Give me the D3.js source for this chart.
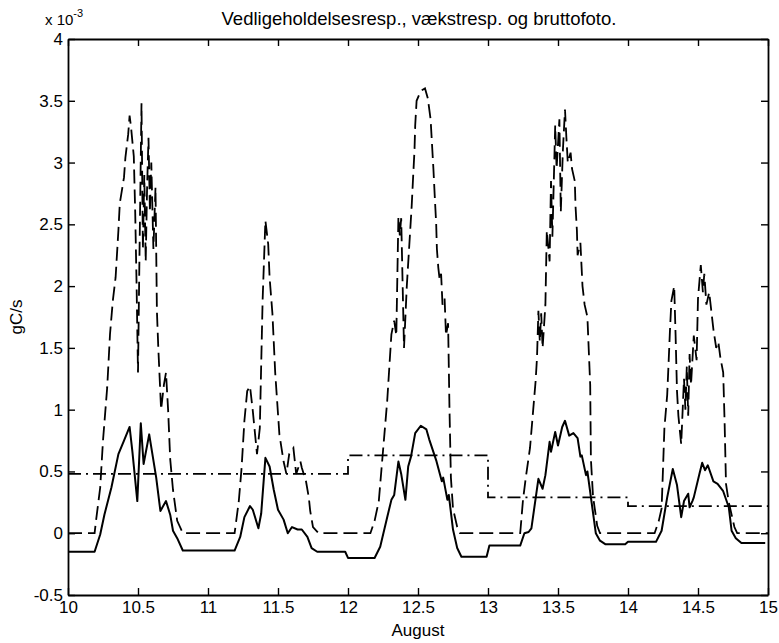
<!DOCTYPE html>
<html>
<head>
<meta charset="utf-8">
<script src="https://cdn.jsdelivr.net/npm/d3@7"></script>
<style>
    body { margin: 0; background: #fff; }
    svg { display: block; }
</style>
</head>
<body>
<div id="chart"></div>
<script>
// values in units of 1e-3 gC/s, time in days of August
const xTicks = [10, 10.5, 11, 11.5, 12, 12.5, 13, 13.5, 14, 14.5, 15]
const yTicks = [-0.5, 0, 0.5, 1, 1.5, 2, 2.5, 3, 3.5, 4]

// bruttofoto (dashed)
const photoX = [10.00, 10.19, 10.20, 10.23, 10.25, 10.28, 10.30, 10.32, 10.34, 10.36, 10.37, 10.40, 10.41, 10.43, 10.44, 10.45, 10.47, 10.48, 10.49, 10.50,
    10.51, 10.525, 10.535, 10.545, 10.555, 10.565, 10.575, 10.585, 10.595, 10.61, 10.625, 10.635, 10.645, 10.665, 10.685, 10.70, 10.715, 10.73, 10.75, 10.78, 10.82,
    11.19, 11.22, 11.24, 11.26, 11.28, 11.30, 11.32, 11.35, 11.37, 11.39, 11.41, 11.43, 11.44, 11.46, 11.48, 11.51, 11.54, 11.56, 11.58, 11.61, 11.63, 11.66, 11.67, 11.70, 11.72, 11.73, 11.75, 11.79,
    12.16, 12.19, 12.22, 12.24, 12.26, 12.28, 12.295, 12.31, 12.33, 12.345, 12.36, 12.37, 12.38, 12.40, 12.42, 12.455, 12.465, 12.475, 12.48, 12.49, 12.52, 12.55, 12.57, 12.59, 12.60, 12.61, 12.62, 12.63, 12.635, 12.645, 12.655, 12.665, 12.675, 12.69, 12.70, 12.715, 12.725, 12.735, 12.75, 12.78, 12.80,
    13.23, 13.25, 13.27, 13.30, 13.32, 13.34, 13.35, 13.36, 13.37, 13.38, 13.39, 13.41, 13.42, 13.44, 13.45, 13.46, 13.48, 13.49, 13.51, 13.52, 13.535, 13.55, 13.56, 13.57, 13.59, 13.60, 13.62, 13.625, 13.635, 13.64, 13.66, 13.675, 13.69, 13.71, 13.73, 13.735, 13.75, 13.78, 13.80,
    14.19, 14.22, 14.24, 14.25, 14.26, 14.28, 14.29, 14.30, 14.31, 14.33, 14.34, 14.35, 14.36, 14.38, 14.40, 14.41, 14.42, 14.43, 14.44, 14.45, 14.47, 14.49, 14.50, 14.52, 14.535, 14.545, 14.56, 14.58, 14.61, 14.63, 14.645, 14.66, 14.68, 14.69, 14.70, 14.72, 14.74, 14.76, 14.78, 15.00]
const photoY = [0, 0, 0.10, 0.37, 0.75, 1.18, 1.61, 1.88, 2.07, 2.45, 2.67, 2.88, 3.04, 3.23, 3.38, 3.29, 3.05, 2.6, 2.0, 1.3,
    2.2, 3.48, 2.3, 2.9, 2.2, 2.8, 3.2, 2.6, 3.0, 2.3, 2.8, 1.8, 1.5, 1.0, 1.2, 1.3, 1.0, 0.6, 0.35, 0.1, 0,
    0, 0.26, 0.53, 0.91, 1.15, 1.19, 0.99, 0.64, 0.85, 1.88, 2.53, 2.34, 2.07, 1.78, 1.3, 0.8, 0.58, 0.48, 0.64, 0.69, 0.48, 0.58, 0.53, 0.42, 0.29, 0.18, 0.05, 0,
    0, 0.10, 0.26, 0.53, 0.80, 1.07, 1.34, 1.61, 1.72, 1.6, 2.56, 2.41, 2.55, 1.5, 2.0, 2.65, 2.88, 3.1, 3.3, 3.5, 3.58, 3.6, 3.52, 3.35, 3.15, 2.95, 2.72, 2.5, 2.3, 2.15, 2.05, 2.1, 1.85, 1.9, 1.6, 1.7, 1.0, 0.45, 0.2, 0.05, 0,
    0, 0.27, 0.45, 0.69, 0.96, 1.23, 1.42, 1.8, 1.55, 1.78, 1.5, 1.85, 2.45, 2.2, 2.85, 2.4, 3.3, 2.95, 3.35, 2.6, 3.1, 3.43, 3.2, 3.0, 3.08, 2.95, 2.85, 2.65, 2.45, 2.25, 2.35, 2.0, 1.85, 1.75, 1.2, 0.6, 0.3, 0.06, 0,
    0, 0.1, 0.2, 0.52, 0.85, 1.12, 1.38, 1.65, 1.88, 2.0, 1.6, 1.15, 0.95, 0.72, 1.25, 1.0, 1.35, 0.95, 1.45, 1.2, 1.6, 1.4, 1.9, 2.17, 1.95, 2.1, 1.85, 1.95, 1.65, 1.5, 1.55, 1.42, 1.3, 0.9, 0.4, 0.25, 0.15, 0.05, 0, 0]

// vaekstresp (solid)
const growthX = [10.00, 10.19, 10.23, 10.26, 10.31, 10.36, 10.40, 10.44, 10.46, 10.495, 10.52, 10.54, 10.58, 10.63, 10.66, 10.70, 10.73, 10.75, 10.78, 10.82,
    11.19, 11.23, 11.26, 11.30, 11.32, 11.36, 11.38, 11.41, 11.44, 11.47, 11.50, 11.54, 11.57, 11.60, 11.64, 11.67, 11.71, 11.74, 11.78, 11.98,
    12.00, 12.19, 12.23, 12.28, 12.31, 12.33, 12.36, 12.38, 12.41, 12.43, 12.45, 12.48, 12.52, 12.56, 12.58, 12.63, 12.67, 12.68, 12.71, 12.72, 12.75, 12.78, 12.81, 12.99,
    13.01, 13.23, 13.26, 13.29, 13.31, 13.34, 13.36, 13.39, 13.41, 13.44, 13.45, 13.48, 13.50, 13.53, 13.55, 13.58, 13.61, 13.64, 13.66, 13.67, 13.70, 13.71, 13.74, 13.77, 13.80, 13.84, 13.98,
    14.00, 14.20, 14.24, 14.28, 14.32, 14.35, 14.38, 14.40, 14.43, 14.44, 14.46, 14.47, 14.51, 14.53, 14.55, 14.57, 14.61, 14.64, 14.68, 14.72, 14.74, 14.77, 14.81, 14.98]
const growthY = [-0.15, -0.15, -0.01, 0.15, 0.37, 0.64, 0.75, 0.86, 0.66, 0.26, 0.89, 0.56, 0.80, 0.45, 0.18, 0.26, 0.15, 0.02, -0.04, -0.14,
    -0.14, -0.03, 0.13, 0.22, 0.19, 0.04, 0.16, 0.61, 0.54, 0.35, 0.19, 0.11, 0.00, 0.05, 0.03, 0.03, -0.03, -0.12, -0.15, -0.15,
    -0.20, -0.20, -0.11, 0.13, 0.27, 0.31, 0.58, 0.48, 0.27, 0.54, 0.62, 0.81, 0.87, 0.84, 0.76, 0.59, 0.42, 0.45, 0.27, 0.31, 0.03, -0.12, -0.19, -0.19,
    -0.10, -0.10, 0.00, 0.01, 0.04, 0.28, 0.44, 0.36, 0.47, 0.74, 0.66, 0.82, 0.71, 0.86, 0.91, 0.79, 0.81, 0.77, 0.62, 0.63, 0.47, 0.50, 0.25, 0.00, -0.06, -0.09, -0.09,
    -0.07, -0.07, 0.02, 0.29, 0.52, 0.39, 0.13, 0.26, 0.32, 0.21, 0.26, 0.29, 0.48, 0.57, 0.51, 0.55, 0.42, 0.40, 0.34, 0.21, 0.02, -0.04, -0.08, -0.08]

// vedligeholdelsesresp (dash-dot), one level per day
const maintDays = [10, 11, 12, 13, 14, 15]
const maintVals = [0.48, 0.48, 0.63, 0.29, 0.22, 0.22]

const font = 'Liberation Sans, Arial, Helvetica, sans-serif'

let svg = d3.select('#chart')
    .append('svg')
    .attr('width', 779)
    .attr('height', 643)

const width = 779, height = 643
const margin = ({ top: 39, right: 11, bottom: 48, left: 68 })

const x = d3.scaleLinear()
    .domain([10, 15])
    .range([margin.left, width - margin.right])
const y = d3.scaleLinear()
    .domain([-0.5, 4])
    .range([height - margin.bottom, margin.top])

const styleAxis = g => g
    .attr('font-size', 17)
    .attr('font-family', font)
    .call(g => g.select('.domain').attr('stroke', '#000').attr('stroke-width', 1.8))
    .call(g => g.selectAll('.tick line').attr('stroke', '#000').attr('stroke-width', 1.4))
    .call(g => g.selectAll('.tick text').attr('fill', '#000'))

// matlab style box, ticks pointing in on all four sides
svg.append('g')
    .attr('transform', `translate(0,${height - margin.bottom})`)
    .call(d3.axisBottom(x).tickValues(xTicks).tickFormat(d => String(d)).tickSize(-7).tickSizeOuter(0).tickPadding(6))
    .call(styleAxis)
svg.append('g')
    .attr('transform', `translate(0,${margin.top})`)
    .call(d3.axisTop(x).tickValues(xTicks).tickFormat('').tickSize(-7).tickSizeOuter(0))
    .call(styleAxis)
svg.append('g')
    .attr('transform', `translate(${margin.left},0)`)
    .call(d3.axisLeft(y).tickValues(yTicks).tickFormat(d => String(d)).tickSize(-7).tickSizeOuter(0).tickPadding(5))
    .call(styleAxis)
svg.append('g')
    .attr('transform', `translate(${width - margin.right},0)`)
    .call(d3.axisRight(y).tickValues(yTicks).tickFormat('').tickSize(-7).tickSizeOuter(0))
    .call(styleAxis)

const line = d3.line()
    .x(d => x(d[0]))
    .y(d => y(d[1]))

svg.append('path')
    .datum(d3.zip(maintDays, maintVals))
    .attr('fill', 'none')
    .attr('stroke', '#000')
    .attr('stroke-width', 1.8)
    .attr('stroke-dasharray', '13,5,2,5')
    .attr('d', line.curve(d3.curveStepAfter))

svg.append('path')
    .datum(d3.zip(photoX, photoY))
    .attr('fill', 'none')
    .attr('stroke', '#000')
    .attr('stroke-width', 1.8)
    .attr('stroke-dasharray', '14,6')
    .attr('d', line.curve(d3.curveLinear))

svg.append('path')
    .datum(d3.zip(growthX, growthY))
    .attr('fill', 'none')
    .attr('stroke', '#000')
    .attr('stroke-width', 2)
    .attr('stroke-linejoin', 'round')
    .attr('d', line.curve(d3.curveLinear))

// texts
svg.append('text')
    .attr('x', 419)
    .attr('y', 25)
    .attr('text-anchor', 'middle')
    .attr('font-family', font)
    .attr('font-size', 18.5)
    .text('Vedligeholdelsesresp., vækstresp. og bruttofoto.')

svg.append('text')
    .attr('x', (margin.left + width - margin.right) / 2)
    .attr('y', 636)
    .attr('text-anchor', 'middle')
    .attr('font-family', font)
    .attr('font-size', 17)
    .text('August')

svg.append('text')
    .attr('transform', `translate(22,${(margin.top + height - margin.bottom) / 2}) rotate(-90)`)
    .attr('text-anchor', 'middle')
    .attr('font-family', font)
    .attr('font-size', 17)
    .text('gC/s')

const expo = svg.append('text')
    .attr('x', 45)
    .attr('y', 25)
    .attr('font-family', font)
    .attr('font-size', 15)
expo.append('tspan').text('x 10')
expo.append('tspan').attr('dy', -8).attr('font-size', 11).text('-3')
</script>
</body>
</html>
